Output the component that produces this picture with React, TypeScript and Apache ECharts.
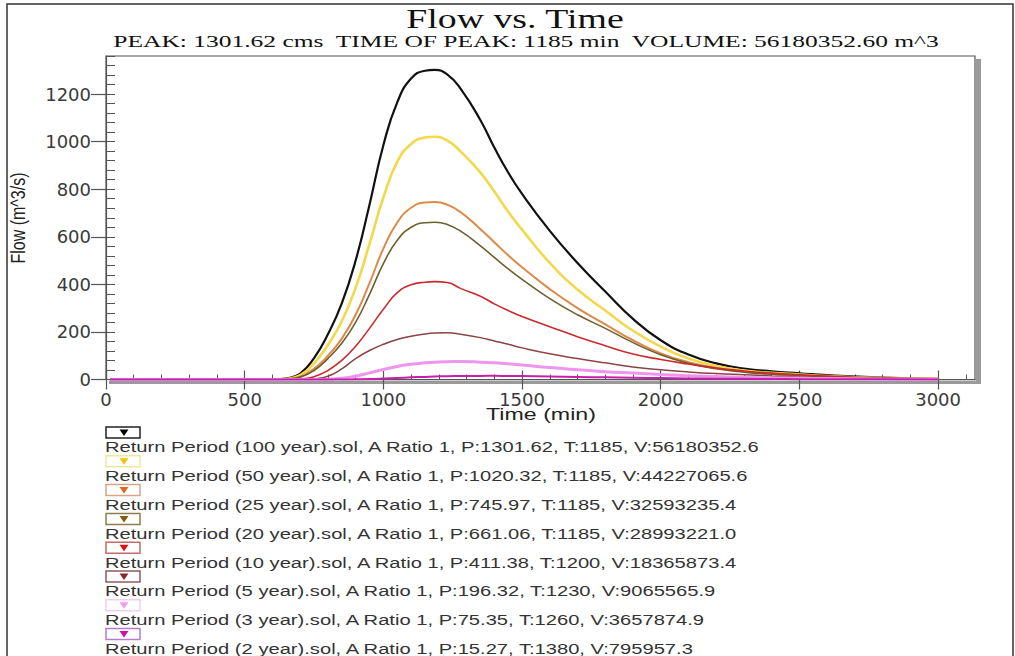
import React, { useEffect, useRef } from "react";
import * as echarts from "echarts";

const TIME = [15, 600, 650, 700, 750, 800, 850, 900, 950, 1000, 1050, 1100, 1150, 1185, 1230, 1280, 1350, 1400, 1450, 1500, 1600, 1700, 1800, 1900, 2000, 2100, 2200, 2300, 2400, 2500, 2600, 2800, 3000];

const FLOW_100 = [0, 0, 5, 25, 90, 190, 320, 500, 735, 985, 1165, 1265, 1298, 1301.62, 1283, 1220, 1090, 975, 870, 780, 625, 490, 370, 255, 165, 105, 68, 46, 34, 26, 18, 8, 3];
const FLOW_50 = [0, 0, 3, 18, 68, 145, 245, 385, 570, 765, 915, 990, 1017, 1020.32, 1005, 957, 870, 790, 705, 630, 490, 378, 290, 205, 138, 88, 57, 38, 28, 21, 14, 6, 2.5];
const FLOW_25 = [0, 0, 2, 12, 45, 100, 172, 272, 405, 550, 660, 722, 744, 745.97, 735, 702, 632, 577, 522, 472, 380, 300, 232, 165, 110, 73, 48, 33, 24, 18, 12, 5, 2];
const FLOW_20 = [0, 0, 2, 10, 38, 88, 152, 240, 358, 487, 585, 640, 659, 661.06, 652, 623, 562, 513, 465, 421, 340, 272, 215, 155, 104, 68, 45, 31, 22, 17, 11, 5, 2];
const FLOW_10 = [0, 0, 0, 2, 12, 38, 80, 140, 215, 295, 365, 398, 409, 411.38, 408, 382, 350, 318, 290, 265, 222, 180, 142, 107, 84, 65, 48, 36, 27, 20, 14, 6, 2.5];
const FLOW_5 = [0, 0, 0, 0, 3, 14, 45, 88, 122, 148, 168, 182, 191, 195, 196.32, 190, 176, 162, 148, 133, 108, 88, 70, 53, 41, 32, 25, 20, 15, 11, 8, 4, 1.5];
const FLOW_3 = [0, 0, 0, 0, 0, 1, 5, 14, 28, 42, 55, 64, 70, 73, 75, 75.35, 73, 70, 66, 61, 50, 41, 33, 27, 21, 16, 12.5, 9.5, 7, 5.5, 4, 2, 1];
const FLOW_2 = [0, 0, 0, 0, 0, 0, 0, 1, 2, 4, 6.5, 9, 11, 12.5, 13.8, 14.7, 15.2, 15.27, 14.8, 14.2, 12.6, 10.8, 9, 7.3, 5.8, 4.5, 3.5, 2.7, 2, 1.5, 1.1, 0.6, 0.3];

const SERIES_NAMES = [
  "Return Period (100 year).sol",
  "Return Period (50 year).sol",
  "Return Period (25 year).sol",
  "Return Period (20 year).sol",
  "Return Period (10 year).sol",
  "Return Period (5 year).sol",
  "Return Period (3 year).sol",
  "Return Period (2 year).sol",
];
const LEGEND_LABELS = [
  "Return Period (100 year).sol, A Ratio 1, P:1301.62, T:1185, V:56180352.6",
  "Return Period (50 year).sol, A Ratio 1, P:1020.32, T:1185, V:44227065.6",
  "Return Period (25 year).sol, A Ratio 1, P:745.97, T:1185, V:32593235.4",
  "Return Period (20 year).sol, A Ratio 1, P:661.06, T:1185, V:28993221.0",
  "Return Period (10 year).sol, A Ratio 1, P:411.38, T:1200, V:18365873.4",
  "Return Period (5 year).sol, A Ratio 1, P:196.32, T:1230, V:9065565.9",
  "Return Period (3 year).sol, A Ratio 1, P:75.35, T:1260, V:3657874.9",
  "Return Period (2 year).sol, A Ratio 1, P:15.27, T:1380, V:795957.3",
];
const FLOWS = [FLOW_100, FLOW_50, FLOW_25, FLOW_20, FLOW_10, FLOW_5, FLOW_3, FLOW_2];

const LINE_COLORS = ["#111111", "#f2d84a", "#dc8a48", "#6e5f30", "#cc2a2a", "#8a4444", "#ee96ee", "#c81eae"];
const LINE_WIDTHS = [2.2, 2.6, 2, 1.6, 1.6, 1.5, 3, 2];
const BOX_COLORS = ["#222222", "#efe79a", "#d9a58a", "#8e7d52", "#c46a6a", "#8c5e5e", "#f0cff0", "#b77cc7"];
const MARK_COLORS = ["#000000", "#f2c400", "#e0661c", "#80600c", "#e01010", "#8a2828", "#f29cf2", "#cc10aa"];

const X_MAJOR = [0, 500, 1000, 1500, 2000, 2500, 3000];
const X_MINOR = [100, 200, 300, 400, 600, 700, 800, 900, 1100, 1200, 1300, 1400, 1600, 1700, 1800, 1900, 2100, 2200, 2300, 2400, 2600, 2700, 2800, 2900, 3100];
const Y_MAJOR = [0, 200, 400, 600, 800, 1000, 1200];
const Y_MINOR = [0, 40, 80, 120, 160, 200, 240, 280, 320, 360, 400, 440, 480, 520, 560, 600, 640, 680, 720, 760, 800, 840, 880, 920, 960, 1000, 1040, 1080, 1120, 1160, 1200, 1240, 1280, 1320, 1360];

const TITLE = "Flow vs. Time";
const SUBTITLE = "PEAK: 1301.62 cms  TIME OF PEAK: 1185 min  VOLUME: 56180352.60 m^3";
const X_NAME = "Time (min)";
const Y_NAME = "Flow (m^3/s)";

const GRID = { left: 106, top: 56, width: 869, height: 323.5 };
const X_MAX = 3133;
const Y_MAX = 1360;

export default function App() {
  const ref = useRef<HTMLDivElement>(null);
  useEffect(() => {
    if (!ref.current) return;
    const chart = echarts.init(ref.current, undefined, { renderer: "svg" });

    const axisColor = "#555555";
    const labelStyle = {
      color: "#3a3a3a",
      fontSize: 18,
      fontFamily: "DejaVu Sans",
      formatter: (v: number) => String(v),
    };

    const baseX = {
      type: "value" as const,
      min: 0,
      max: X_MAX,
      position: "bottom" as const,
      splitLine: { show: false },
    };
    const baseY = {
      type: "value" as const,
      min: 0,
      max: Y_MAX,
      position: "left" as const,
      splitLine: { show: false },
    };

    const legendEls: any[] = [];
    LEGEND_LABELS.forEach((label, k) => {
      const top = 427 + 28.8 * k;
      legendEls.push({
        type: "rect",
        shape: { x: 106, y: top, width: 34, height: 11 },
        style: { fill: "#ffffff", stroke: BOX_COLORS[k], lineWidth: 1.5 },
      });
      legendEls.push({
        type: "polygon",
        shape: { points: [[119.5, top + 2.5], [128.5, top + 2.5], [124, top + 9]] },
        style: { fill: MARK_COLORS[k] },
      });
      legendEls.push({
        type: "text",
        x: 105,
        y: 447.5 + 28.8 * k,
        scaleX: 1.55,
        scaleY: 1.08,
        style: {
          text: label,
          font: "13px 'Liberation Sans'",
          fill: "#333333",
          align: "left",
          verticalAlign: "middle",
        },
      });
    });

    chart.setOption({
      animation: false,
      backgroundColor: "#ffffff",
      grid: {
        ...GRID,
        show: true,
        borderColor: axisColor,
        borderWidth: 1.2,
        backgroundColor: "transparent",
      },
      xAxis: [
        {
          ...baseX,
          axisLine: { show: true, lineStyle: { color: axisColor, width: 1.2 } },
          axisTick: { show: true, inside: false, length: 10, customValues: X_MAJOR, lineStyle: { color: axisColor, width: 1.2 } },
          axisLabel: { show: true, customValues: X_MAJOR, margin: 11, ...labelStyle },
        },
        {
          ...baseX,
          axisLine: { show: false },
          axisTick: { show: true, inside: true, length: 5, customValues: X_MINOR, lineStyle: { color: axisColor, width: 1 } },
          axisLabel: { show: false },
        },
        {
          ...baseX,
          axisLine: { show: false },
          axisTick: { show: true, inside: true, length: 9, customValues: X_MAJOR, lineStyle: { color: axisColor, width: 1.2 } },
          axisLabel: { show: false },
        },
      ],
      yAxis: [
        {
          ...baseY,
          axisLine: { show: true, lineStyle: { color: axisColor, width: 1.2 } },
          axisTick: { show: true, inside: false, length: 15, customValues: Y_MAJOR, lineStyle: { color: axisColor, width: 1.2 } },
          axisLabel: { show: true, customValues: Y_MAJOR, margin: 15, ...labelStyle },
        },
        {
          ...baseY,
          axisLine: { show: false },
          axisTick: { show: true, inside: true, length: 9, customValues: Y_MINOR, lineStyle: { color: axisColor, width: 1 } },
          axisLabel: { show: false },
        },
      ],
      graphic: [
        {
          type: "polyline",
          z: -10,
          shape: { points: [[7, 700], [7, 4], [1013, 4], [1013, 700]] },
          style: { fill: "none", stroke: "#333333", lineWidth: 1.5 },
        },
        {
          type: "rect",
          z: -5,
          shape: { x: 976, y: 59, width: 5, height: 325 },
          style: { fill: "#9a9a9a" },
        },
        {
          type: "rect",
          z: -5,
          shape: { x: 109, y: 380.5, width: 872, height: 3.5 },
          style: { fill: "#9a9a9a" },
        },
        {
          type: "text",
          x: 515,
          y: 18,
          scaleX: 1.35,
          style: { text: TITLE, font: "28px 'Liberation Serif'", fill: "#111111", align: "center", verticalAlign: "middle" },
        },
        {
          type: "text",
          x: 526,
          y: 42,
          scaleX: 1.5,
          style: { text: SUBTITLE, font: "17px 'Liberation Serif'", fill: "#111111", align: "center", verticalAlign: "middle" },
        },
        {
          type: "text",
          x: 541,
          y: 414,
          scaleX: 1.45,
          style: { text: X_NAME, font: "16px 'Liberation Sans'", fill: "#222222", align: "center", verticalAlign: "middle" },
        },
        {
          type: "text",
          x: 18,
          y: 218,
          rotation: Math.PI / 2,
          scaleY: 1.3,
          style: { text: Y_NAME, font: "16px 'Liberation Sans'", fill: "#222222", align: "center", verticalAlign: "middle" },
        },
        ...legendEls,
      ],
      series: FLOWS.map((vals, k) => ({
        name: SERIES_NAMES[k],
        type: "line",
        xAxisIndex: 0,
        yAxisIndex: 0,
        data: TIME.map((t, i) => [t, vals[i]]),
        showSymbol: false,
        symbol: "none",
        smooth: 0.5,
        lineStyle: { color: LINE_COLORS[k], width: LINE_WIDTHS[k] },
        z: 2,
      })),
    });
    return () => chart.dispose();
  }, []);
  return <div ref={ref} style={{ position: "fixed", left: 0, top: 0, width: 1015, height: 656 }} />;
}
